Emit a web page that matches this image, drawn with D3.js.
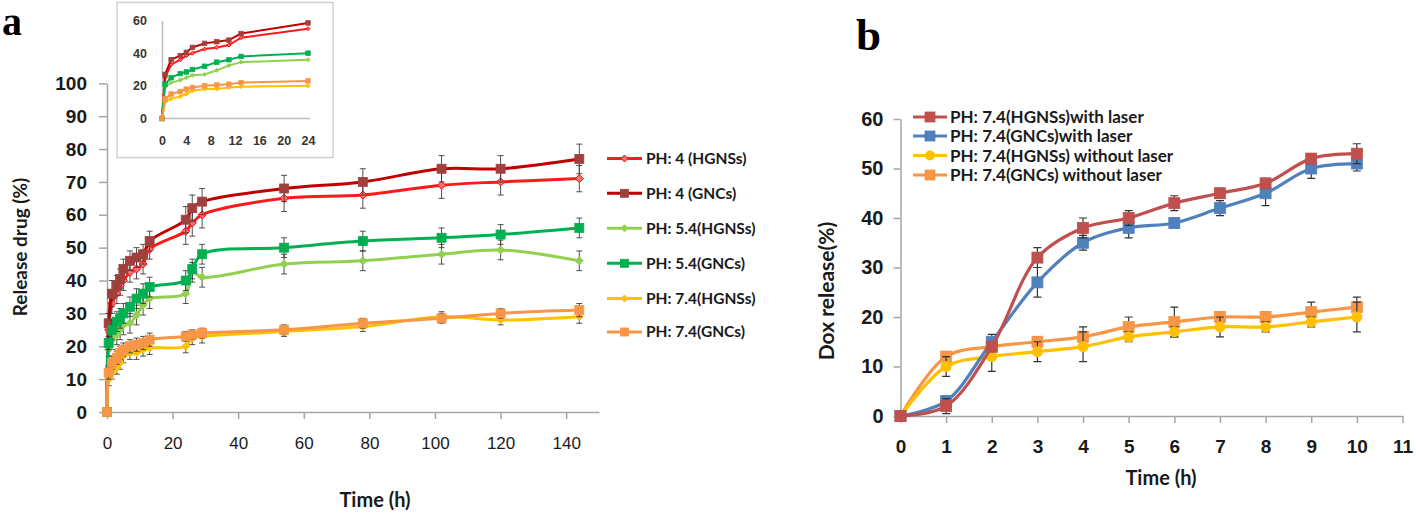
<!DOCTYPE html>
<html><head><meta charset="utf-8">
<script src="https://cdn.jsdelivr.net/npm/d3@7"></script>
<style>
html,body{margin:0;padding:0;background:#fff;}
svg{display:block;font-family:Lato,"Open Sans",sans-serif;}
</style></head>
<body>
<script>
// ---------------- DATA: panel a ----------------
const timesA = [0, 0.5, 1.5, 3, 4, 5, 7, 9, 11, 13, 24, 26, 29, 54, 78, 102, 120, 144];
const ph4HGNSs   = [0, 25, 33, 36, 38.5, 40, 42.5, 43.5, 45, 49.5, 55, 57.5, 60, 65, 66, 69, 70, 71];
const ph4GNCs    = [0, 27, 36, 38.5, 40.5, 43.5, 46, 47, 48, 52, 58.5, 62, 64, 68, 70, 74, 74, 77];
const ph54HGNSs  = [0, 19, 22, 23.5, 25, 26.5, 27, 29.5, 32.5, 34.5, 36, 42.5, 41, 45, 46, 48, 49.3, 46];
const ph54GNCs   = [0, 21, 25, 27.5, 28.5, 30, 32, 34.5, 36, 38, 40, 43.5, 48, 50, 52, 53, 54, 56];
const ph74HGNSs  = [0, 10, 12, 13.5, 15, 17, 18, 18, 19, 19.5, 20, 22.5, 23, 24.5, 26, 29, 28, 29];
const ph74GNCs   = [0, 12, 15, 16.5, 18, 19, 20, 20.5, 21, 22, 23, 23.5, 24, 25, 27, 28.5, 30, 31];
const errPh4HGNSs  = [0, 3, 3, 3, 3, 3, 3, 3, 3, 3, 4, 4, 4, 4, 4, 4, 4, 4];
const errPh4GNCs   = [0, 3, 4, 3, 3, 3, 3, 3, 3, 3, 4, 4, 4, 4, 4, 4, 4, 4.5];
const errPh54HGNSs = [0, 2, 3, 3, 3, 3, 3, 3, 3, 3, 3, 3, 3, 3, 3, 3, 3, 3];
const errPh54GNCs  = [0, 2, 3, 3, 3, 3, 3, 3, 3, 3, 3, 3, 3, 3, 3, 3, 3, 3];
const errPh74HGNSs = [0, 2, 2, 2, 2, 2, 2, 2, 2, 2, 2, 2, 2, 1.5, 1.5, 1.5, 1.5, 2];
const errPh74GNCs  = [0, 2, 2, 2, 2, 2, 2, 2, 2, 2, 1.5, 1.5, 1.5, 1.5, 1.5, 1.5, 1.5, 2];
const seriesNamesA = ["PH: 4 (HGNSs)", "PH: 4 (GNCs)", "PH: 5.4(HGNSs)", "PH: 5.4(GNCs)", "PH: 7.4(HGNSs)", "PH: 7.4(GNCs)"];
const xTicksA = [0, 20, 40, 60, 80, 100, 120, 140];
const yTicksA = [0, 10, 20, 30, 40, 50, 60, 70, 80, 90, 100];
const insetXTicks = [0, 4, 8, 12, 16, 20, 24];
const insetYTicks = [0, 20, 40, 60];

// ---------------- DATA: panel b ----------------
const timesB = [0, 1, 2, 3, 4, 5, 6, 7, 8, 9, 10];
const hgnsLaser   = [0, 2, 14, 32, 38, 40, 43, 45, 47, 52, 53];
const gncLaser    = [0, 3, 15, 27, 35, 38, 39, 42, 45, 50, 51];
const hgnsNoLaser = [0, 10, 12, 13, 14, 16, 17, 18, 18, 19, 20];
const gncNoLaser  = [0, 12, 14, 15, 16, 18, 19, 20, 20, 21, 22];
const errHgnsLaser   = [0, 1.5, 1, 2, 2, 1.5, 1.5, 1, 1, 1, 2];
const errGncLaser    = [0, 1, 1.5, 3, 1.5, 2, 1, 1.5, 2.5, 2, 1.5];
const errHgnsNoLaser = [0, 2, 3, 2, 3, 1, 1, 2, 1, 1, 3];
const errGncNoLaser  = [0, 1, 1, 1, 2, 2, 3, 1, 1, 2, 2];
const seriesNamesB = ["PH: 7.4(HGNSs)with laser", "PH: 7.4(GNCs)with laser", "PH: 7.4(HGNSs) without laser", "PH: 7.4(GNCs) without laser"];
const xTicksB = [0, 1, 2, 3, 4, 5, 6, 7, 8, 9, 10, 11];
const yTicksB = [0, 10, 20, 30, 40, 50, 60];

// ---------------- styles ----------------
const AXIS = "#a6a6a6";
const TXT = "#1a1a1a";
const stylesA = [
  {line:"#ff1a1a", fill:"#ff7070", stroke:"#ff0000", shape:"diamond"},
  {line:"#c00000", fill:"#a0403c", stroke:"#a0403c", shape:"square"},
  {line:"#92d050", fill:"#92d050", stroke:"#92d050", shape:"diamond"},
  {line:"#00b050", fill:"#00b050", stroke:"#00b050", shape:"square"},
  {line:"#ffc000", fill:"#ffc000", stroke:"#ffc000", shape:"diamond"},
  {line:"#f79646", fill:"#f79646", stroke:"#f79646", shape:"square"}
];
const stylesB = [
  {line:"#c0504d", fill:"#c0504d", shape:"square"},
  {line:"#4f81bd", fill:"#4f81bd", shape:"square"},
  {line:"#ffc000", fill:"#ffc000", shape:"circle"},
  {line:"#f79646", fill:"#f79646", shape:"square"}
];

const valsA = [ph4HGNSs, ph4GNCs, ph54HGNSs, ph54GNCs, ph74HGNSs, ph74GNCs];
const errsA = [errPh4HGNSs, errPh4GNCs, errPh54HGNSs, errPh54GNCs, errPh74HGNSs, errPh74GNCs];
const valsB = [hgnsLaser, gncLaser, hgnsNoLaser, gncNoLaser];
const errsB = [errHgnsLaser, errGncLaser, errHgnsNoLaser, errGncNoLaser];

const svg = d3.select("body").append("svg").attr("width", 1416).attr("height", 515);

function marker(g, shape, x, y, s, fill, stroke) {
  if (shape === "square") {
    g.append("rect").attr("x", x - s/2).attr("y", y - s/2).attr("width", s).attr("height", s)
      .attr("fill", fill).attr("stroke", stroke || fill).attr("stroke-width", 0.8);
  } else if (shape === "diamond") {
    const h = s/2;
    g.append("path").attr("d", `M${x},${y-h}L${x+h},${y}L${x},${y+h}L${x-h},${y}Z`)
      .attr("fill", fill).attr("stroke", stroke || fill).attr("stroke-width", 1);
  } else {
    g.append("circle").attr("cx", x).attr("cy", y).attr("r", s/2).attr("fill", fill);
  }
}

function styleAxis(g, fontSize, weight) {
  g.select(".domain").attr("stroke", AXIS).attr("stroke-width", 1.5);
  g.selectAll(".tick line").attr("stroke", AXIS).attr("stroke-width", 1.5);
  g.selectAll(".tick text").attr("fill", TXT).style("font-size", fontSize + "px").style("font-weight", weight);
}

// ================= PANEL A =================
const xa = d3.scaleLinear().domain([0, 150]).range([107, 599]);
const ya = d3.scaleLinear().domain([0, 100]).range([412, 83.3]);

svg.append("text").attr("x", 2).attr("y", 35).text("a")
  .style("font-family", "'Liberation Serif','DejaVu Serif',serif").style("font-weight", "bold").style("font-size", "40px").attr("fill", "#000");

const gxa = svg.append("g").attr("transform", `translate(0,${ya(0)})`)
  .call(d3.axisBottom(xa).tickValues(xTicksA).tickSize(7).tickPadding(18).tickSizeOuter(0));
styleAxis(gxa, 17, 400);
const gya = svg.append("g").attr("transform", `translate(${xa(0)},0)`)
  .call(d3.axisLeft(ya).tickValues(yTicksA).tickSize(8).tickPadding(12).tickSizeOuter(0));
styleAxis(gya, 19, 700);

svg.append("text").attr("transform", `translate(27,247) rotate(-90)`).attr("text-anchor", "middle")
  .style("font-size", "19px").style("font-weight", 700).attr("fill", TXT).text("Release drug (%)");
svg.append("text").attr("x", 375).attr("y", 507).attr("text-anchor", "middle")
  .style("font-size", "20px").style("font-weight", 700).attr("fill", TXT).text("Time (h)");

const lineA = d3.line().x(d => xa(d[0])).y(d => ya(d[1])).curve(d3.curveCatmullRom.alpha(0.5));
const plotA = svg.append("g");
valsA.forEach((vals, i) => {
  const st = stylesA[i];
  const pts = timesA.map((t, k) => [t, vals[k]]);
  const g = plotA.append("g");
  g.append("path").attr("d", lineA(pts)).attr("fill", "none").attr("stroke", st.line).attr("stroke-width", 3);
  pts.forEach((p, k) => {
    const e = errsA[i][k];
    if (e > 0) {
      const x = xa(p[0]);
      g.append("path").attr("d", `M${x},${ya(p[1]-e)}V${ya(p[1]+e)}M${x-3},${ya(p[1]-e)}h6M${x-3},${ya(p[1]+e)}h6`)
        .attr("stroke", "#333").attr("stroke-width", 1).attr("fill", "none").attr("opacity", 0.85);
    }
  });
  pts.forEach(p => marker(g, st.shape, xa(p[0]), ya(p[1]), st.shape === "square" ? 9 : 8, st.fill, st.stroke));
});

// legend a
const legA = svg.append("g");
const legAy = [158.5, 193.3, 228.3, 263.3, 298.5, 332];
seriesNamesA.forEach((name, i) => {
  const st = stylesA[i], y = legAy[i];
  legA.append("line").attr("x1", 607).attr("x2", 642).attr("y1", y).attr("y2", y).attr("stroke", st.line).attr("stroke-width", 3);
  marker(legA, st.shape, 624.5, y, st.shape === "square" ? 8 : 7, st.fill, st.stroke);
  legA.append("text").attr("x", 646).attr("y", y).attr("dy", "0.35em").style("font-size", "15.5px").style("font-weight", 700)
    .attr("fill", TXT).text(name);
});

// inset
const inset = svg.append("g");
inset.append("rect").attr("x", 117).attr("y", 2.5).attr("width", 216).attr("height", 155)
  .attr("fill", "#fff").attr("stroke", "#d0d0d0").attr("stroke-width", 1.5);
const xi = d3.scaleLinear().domain([0, 24]).range([162, 308]);
const yi = d3.scaleLinear().domain([0, 60]).range([118.5, 20.5]);
const gxi = inset.append("g").attr("transform", `translate(0,${yi(0)})`)
  .call(d3.axisBottom(xi).tickValues(insetXTicks).tickSize(0).tickPadding(18).tickSizeOuter(0));
const gyi = inset.append("g").attr("transform", `translate(${xi(0)},0)`)
  .call(d3.axisLeft(yi).tickValues(insetYTicks).tickSize(0).tickPadding(15).tickSizeOuter(0));
[gxi, gyi].forEach(g => {
  g.select(".domain").attr("stroke", "#bdbdbd").attr("stroke-width", 1.5);
  g.selectAll(".tick text").attr("fill", "#3a3530").style("font-size", "12.5px").style("font-weight", 700);
});
gxi.select(".domain").attr("d", `M${xi(0)},0H${xi(24) + 2}`);
const lineI = d3.line().x(d => xi(d[0])).y(d => yi(d[1]));
valsA.forEach((vals, i) => {
  const st = stylesA[i];
  const pts = timesA.map((t, k) => [t, vals[k]]).filter(p => p[0] <= 24);
  const g = inset.append("g");
  g.append("path").attr("d", lineI(pts)).attr("fill", "none").attr("stroke", st.line).attr("stroke-width", 2);
  pts.forEach(p => marker(g, st.shape, xi(p[0]), yi(p[1]), st.shape === "square" ? 4.5 : 4, st.fill, st.stroke));
});

// ================= PANEL B =================
const xb = d3.scaleLinear().domain([0, 11]).range([900.5, 1402.5]);
const yb = d3.scaleLinear().domain([0, 60]).range([416, 119]);

svg.append("text").attr("x", 856).attr("y", 50).text("b")
  .style("font-family", "'Liberation Serif','DejaVu Serif',serif").style("font-weight", "bold").style("font-size", "45px").attr("fill", "#000");

const gxb = svg.append("g").attr("transform", `translate(0,${yb(0)})`)
  .call(d3.axisBottom(xb).tickValues(xTicksB).tickSize(7).tickPadding(17).tickSizeOuter(0));
styleAxis(gxb, 19, 700);
const gyb = svg.append("g").attr("transform", `translate(${xb(0)},0)`)
  .call(d3.axisLeft(yb).tickValues(yTicksB).tickSize(7).tickPadding(10).tickSizeOuter(0));
styleAxis(gyb, 20, 700);

svg.append("text").attr("transform", `translate(834,291) rotate(-90)`).attr("text-anchor", "middle")
  .style("font-size", "21px").style("font-weight", 700).attr("fill", TXT).text("Dox release(%)");
svg.append("text").attr("x", 1161).attr("y", 485).attr("text-anchor", "middle")
  .style("font-size", "20px").style("font-weight", 700).attr("fill", TXT).text("Time (h)");

const lineB = d3.line().x(d => xb(d[0])).y(d => yb(d[1])).curve(d3.curveCatmullRom.alpha(0.5));
[3, 2, 1, 0].forEach(i => {
  const st = stylesB[i];
  const pts = timesB.map((t, k) => [t, valsB[i][k]]);
  const g = svg.append("g");
  g.append("path").attr("d", lineB(pts)).attr("fill", "none").attr("stroke", st.line).attr("stroke-width", 3.2);
  pts.forEach((p, k) => {
    const e = errsB[i][k];
    if (e > 0) {
      const x = xb(p[0]);
      g.append("path").attr("d", `M${x},${yb(p[1]-e)}V${yb(p[1]+e)}M${x-4},${yb(p[1]-e)}h8M${x-4},${yb(p[1]+e)}h8`)
        .attr("stroke", "#333").attr("stroke-width", 1.2).attr("fill", "none");
    }
  });
  pts.forEach(p => marker(g, st.shape, xb(p[0]), yb(p[1]), 11, st.fill));
});

// legend b
const legB = svg.append("g");
const legBy = [117, 136, 155.5, 175];
seriesNamesB.forEach((name, i) => {
  const st = stylesB[i], y = legBy[i];
  legB.append("line").attr("x1", 913).attr("x2", 947).attr("y1", y).attr("y2", y).attr("stroke", st.line).attr("stroke-width", 3.2);
  marker(legB, st.shape, 930, y, 10, st.fill);
  legB.append("text").attr("x", 950).attr("y", y).attr("dy", "0.36em").style("font-size", "17px").style("font-weight", 700)
    .attr("fill", TXT).text(name);
});
</script>
</body></html>
